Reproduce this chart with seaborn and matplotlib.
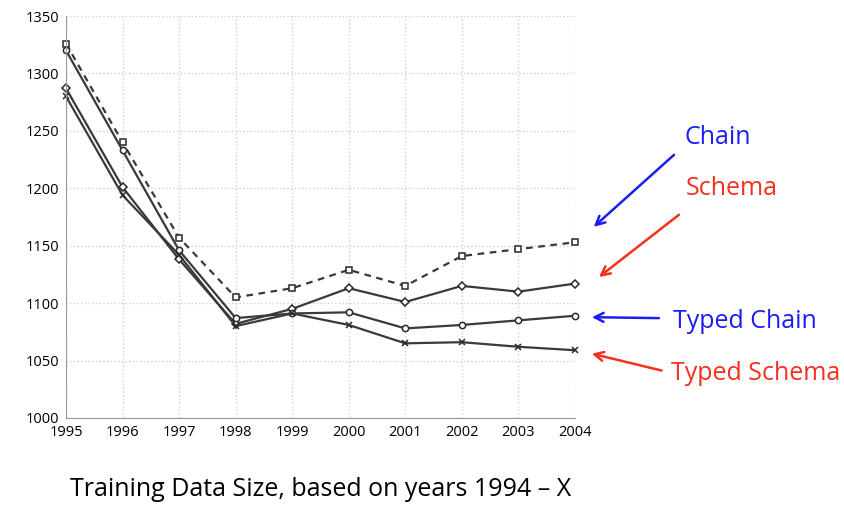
"""Training data size vs. perplexity-like score for four models."""

import matplotlib.pyplot as plt
import pandas as pd
import seaborn as sns

YEARS = [1995, 1996, 1997, 1998, 1999, 2000, 2001, 2002, 2003, 2004]
CHAIN = [1326, 1240, 1157, 1105, 1113, 1129, 1115, 1141, 1147, 1153]
SCHEMA = [1287, 1201, 1138, 1082, 1095, 1113, 1101, 1115, 1110, 1117]
TYPED_CHAIN = [1320, 1233, 1146, 1087, 1091, 1092, 1078, 1081, 1085, 1089]
TYPED_SCHEMA = [1280, 1194, 1142, 1080, 1091, 1081, 1065, 1066, 1062, 1059]

SERIES = {
    "Chain": CHAIN,
    "Schema": SCHEMA,
    "Typed Chain": TYPED_CHAIN,
    "Typed Schema": TYPED_SCHEMA,
}
MARKERS = {"Chain": "s", "Schema": "D", "Typed Chain": "o", "Typed Schema": "x"}
LINESTYLES = {"Chain": (0, (3, 2.5)), "Schema": "-", "Typed Chain": "-", "Typed Schema": "-"}

BLUE = "#1c1cf5"
RED = "#f5301c"

sns.set_style("white")
plt.rcParams["font.family"] = ["Open Sans", "DejaVu Sans"]

fig = plt.figure(figsize=(8.44, 5.05), dpi=100)
ax = fig.add_axes([0.0782, 0.1723, 0.603, 0.796])

for name, values in SERIES.items():
    df = pd.DataFrame({"year": YEARS, "value": values})
    sns.lineplot(
        data=df,
        x="year",
        y="value",
        color="#3a3a3a",
        linewidth=1.6,
        linestyle=LINESTYLES[name],
        marker=MARKERS[name],
        markersize=4.5 if name != "Typed Schema" else 4,
        markerfacecolor="white",
        markeredgecolor="#2a2a2a",
        markeredgewidth=1.1,
        clip_on=False,
        ax=ax,
    )

ax.set_xlim(1995, 2004)
ax.set_ylim(1000, 1350)
ax.set_xticks(YEARS)
ax.set_yticks(range(1000, 1351, 50))
ax.grid(True, linestyle=":", color="#d0d0d0", linewidth=1)
ax.set_axisbelow(True)
for side in ["top", "right"]:
    ax.spines[side].set_visible(False)
for side in ["left", "bottom"]:
    ax.spines[side].set_color("#999999")
ax.tick_params(axis="both", length=3, color="#999999", labelcolor="black",
               labelsize=10.5, pad=2)
ax.set_xlabel("")
ax.set_ylabel("")

fig.text(0.38, 0.03, "Training Data Size, based on years 1994 \u2013 X", ha="center",
         va="center", fontsize=18, color="black")

# labels with arrows pointing at the line ends
notes = [
    ("Chain", BLUE, (0.851, 0.727), (0.801, 0.697), (0.701, 0.547)),
    ("Schema", RED, (0.867, 0.626), (0.807, 0.578), (0.707, 0.448)),
    ("Typed Chain", BLUE, (0.883, 0.364), (0.784, 0.370), (0.698, 0.372)),
    ("Typed Schema", RED, (0.895, 0.261), (0.787, 0.265), (0.698, 0.301)),
]
for label, color, text_pos, start, end in notes:
    fig.text(*text_pos, label, color=color, ha="center", va="center", fontsize=18)
    ax.annotate(
        "",
        xy=end,
        xytext=start,
        xycoords="figure fraction",
        textcoords="figure fraction",
        arrowprops=dict(arrowstyle="->", color=color, lw=1.8, mutation_scale=16),
        annotation_clip=False,
    )

plt.savefig("out.png", dpi=100)
